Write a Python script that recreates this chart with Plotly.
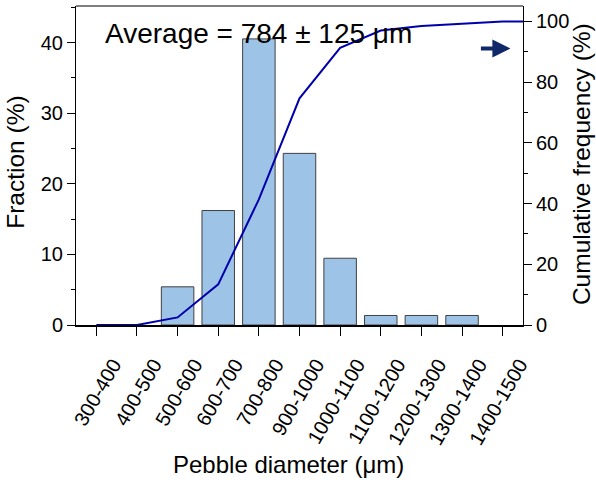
import plotly.graph_objects as go

# Size classes (µm) shown on the x axis
size_classes = ["300-400", "400-500", "500-600", "600-700", "700-800",
                "900-1000", "1000-1100", "1100-1200", "1200-1300",
                "1300-1400", "1400-1500"]

# Fraction of pebbles per class (%)
bar_positions = [2, 3, 4, 5, 6, 7, 8, 9]
fraction_pct = [5.41, 16.22, 40.54, 24.32, 9.46, 1.35, 1.35, 1.35]

# Cumulative frequency curve (%)
cum_positions = [0, 1, 2, 3, 4, 5, 6, 7, 8, 9, 10, 11]
cum_freq_pct = [0, 0, 2.5, 13.4, 41.4, 74.7, 91.3, 97.0, 98.5, 99.3, 100, 100]

FONT = "Liberation Sans, Arial, sans-serif"

fig = go.Figure()

fig.add_trace(go.Bar(
    x=bar_positions, y=fraction_pct, width=0.8,
    marker=dict(color="#9dc3e6", line=dict(color="#404040", width=1)),
    yaxis="y", showlegend=False,
))

fig.add_trace(go.Scatter(
    x=cum_positions, y=cum_freq_pct, mode="lines",
    line=dict(color="#0000aa", width=2),
    yaxis="y2", showlegend=False,
))

fig.update_layout(
    width=596, height=483,
    margin=dict(l=76, r=73, t=6, b=158),
    plot_bgcolor="white", paper_bgcolor="white",
    font=dict(family=FONT, size=20, color="black"),
    xaxis=dict(
        range=[-0.5, 10.5], tickmode="array",
        tickvals=list(range(len(size_classes))), ticktext=size_classes,
        tickangle=-60, ticks="outside", ticklen=9, tickwidth=1, tickcolor="black",
        ticklabelshift=17, ticklabelstandoff=9,
        showline=True, linecolor="black", linewidth=2,
        showgrid=False, zeroline=False,
        tickfont=dict(size=20),
    ),
    yaxis=dict(
        range=[0, 45.2], tickvals=[0, 10, 20, 30, 40],
        ticks="outside", ticklen=8, tickwidth=1, tickcolor="black",
        minor=dict(tickvals=[5, 15, 25, 35, 45], ticks="outside", ticklen=4,
                   tickcolor="black"),
        showline=True, linecolor="black", linewidth=1,
        showgrid=False, zeroline=False,
    ),
    yaxis2=dict(
        range=[0, 105.1], tickvals=[0, 20, 40, 60, 80, 100],
        overlaying="y", side="right", anchor="x",
        ticks="outside", ticklen=8, tickwidth=1, tickcolor="black",
        minor=dict(tickvals=[10, 30, 50, 70, 90], ticks="outside", ticklen=4,
                   tickcolor="black"),
        showline=True, linecolor="black", linewidth=1,
        showgrid=False, zeroline=False,
    ),
    shapes=[dict(type="line", xref="paper", yref="paper", x0=0, x1=1, y0=1, y1=1,
                 line=dict(color="black", width=1))],
)

annotations = [
    dict(text="Average = 784 ± 125 μm", xref="paper", yref="paper",
         x=0.061, y=0.913, xanchor="left", yanchor="middle", showarrow=False,
         font=dict(size=28)),
    dict(text="Fraction (%)", xref="paper", yref="paper", x=-0.136, y=0.509,
         xanchor="center", yanchor="middle", textangle=-90, showarrow=False,
         font=dict(size=24.5)),
    dict(text="Cumulative frequency (%)", xref="paper", yref="paper", x=1.1324,
         y=0.505, xanchor="center", yanchor="middle", textangle=-90,
         showarrow=False, font=dict(size=24.5)),
    dict(text="Pebble diameter (μm)", xref="paper", yref="paper", x=0.4746,
         y=-0.437, xanchor="center", yanchor="middle", showarrow=False,
         font=dict(size=24)),
    # arrow pointing to the right-hand axis
    dict(text="", xref="paper", yref="paper", x=0.9718, y=0.8667,
         ax=-31, ay=0, showarrow=True, arrowhead=2, arrowsize=0.9,
         arrowwidth=4, arrowcolor="#10286a", standoff=0),
]
fig.update_layout(annotations=annotations)

fig.write_html("out.html")
